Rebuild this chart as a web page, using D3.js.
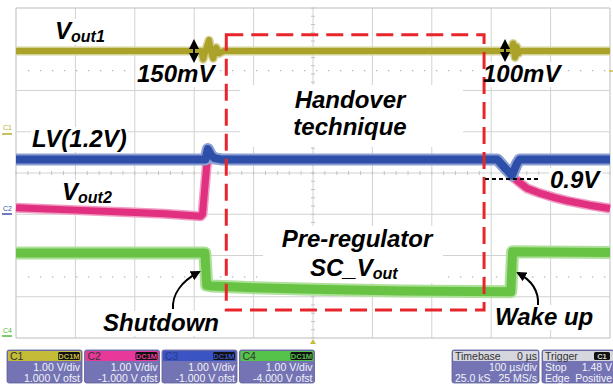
<!DOCTYPE html>
<html><head><meta charset="utf-8">
<script src="https://cdn.jsdelivr.net/npm/d3@7"></script>
<style>
html,body{margin:0;padding:0;background:#fff;}
svg{display:block;}
text{font-family:"Liberation Sans",Arial,sans-serif;}
</style></head><body>
<svg id="c" width="613" height="385"></svg>
<script>
// ---------- data (time in µs, level in screen divisions) ----------
const xTicks = [-500,-400,-300,-200,-100,0,100,200,300,400,500];
const yTicks = [-4,-3,-2,-1,0,1,2,3,4];

const vout1T = [-500,-188,-185,-180,-175,-171,-168,-163,-158,-150,333,337,340,343,346,350,500];
const vout1V = [2.96,2.96,2.76,3.0,3.22,2.9,2.78,3.04,2.9,2.96,2.96,3.14,2.8,3.06,2.9,2.96,2.96];

const lvT = [-500,-181,-177,-172,-166,-155,310,322,335,343,348,500];
const lvV = [0.33,0.33,0.58,0.44,0.36,0.33,0.33,0.14,-0.06,0.22,0.33,0.33];

const vout2T = [-500,-400,-300,-250,-189,-186,-177,-170,310,322,335,345,360,380,405,430,465,500];
const vout2V = [-0.84,-0.9,-0.96,-0.99,-1.05,-1.0,0.5,0.33,0.33,0.14,-0.08,-0.2,-0.37,-0.48,-0.59,-0.68,-0.78,-0.86];

const scT = [-500,-182,-179,-170,-100,0,150,333,336,500];
const scV = [-1.94,-1.94,-2.72,-2.74,-2.78,-2.82,-2.86,-2.88,-1.91,-1.93];

const handoverT = [-146, 288];
const handoverV = [-3.32, 3.35];

const chanNames = ["C1","C2","C3","C4"];
const chanColors = ["#c4bb36","#e8399a","#3b54c4","#55c24a"];
const chanScale = ["1.00 V/div","1.00 V/div","1.00 V/div","1.00 V/div"];
const chanOffset = ["1.000 V ofst","-1.000 V ofst","-1.000 V ofst","-4.000 V ofst"];
const chanCoupling = ["DC1M","DC1M","DC1M","DC1M"];
const timebaseRows = [["Timebase","0 µs"],["","100 µs/div"],["25.0 kS","25 MS/s"]];
const triggerRows = [["Trigger","C1"],["Stop","1.48 V"],["Edge","Positive"]];

// ---------- setup ----------
const svg = d3.select("#c");
const x = d3.scaleLinear().domain([-500,500]).range([16,610]);
const y = d3.scaleLinear().domain([-4,4]).range([338,8]);

// grid
const g = svg.append("g");
g.selectAll("line.v").data(xTicks).join("line")
  .attr("x1",d=>x(d)).attr("x2",d=>x(d)).attr("y1",y(4)).attr("y2",y(-4))
  .attr("stroke",d=>(d===-500||d===500)?"#bdbdbd":"#d2d2d2").attr("stroke-width",1);
g.selectAll("line.h").data(yTicks).join("line")
  .attr("y1",d=>y(d)).attr("y2",d=>y(d)).attr("x1",x(-500)).attr("x2",x(500))
  .attr("stroke",d=>(d===-4||d===4)?"#bdbdbd":"#d2d2d2").attr("stroke-width",1);
const minorX = d3.range(-500,500.1,20), minorY = d3.range(-4,4.01,0.2);
g.selectAll("line.mx").data(minorX).join("line")
  .attr("x1",d=>x(d)).attr("x2",d=>x(d)).attr("y1",y(0)-2).attr("y2",y(0)+2).attr("stroke","#c4c4c4");
g.selectAll("line.my").data(minorY).join("line")
  .attr("y1",d=>y(d)).attr("y2",d=>y(d)).attr("x1",x(0)-2).attr("x2",x(0)+2).attr("stroke","#c4c4c4");
[2.48,-2.52].forEach(v=>{
  g.append("line").attr("x1",x(-480)).attr("x2",x(500)).attr("y1",y(v)).attr("y2",y(v))
   .attr("stroke","#b8b8b8").attr("stroke-width",1.2).attr("stroke-dasharray","1.5 10.5");
});

// white label boxes (covering grid)
const boxes = svg.append("g");
boxes.append("rect").attr("x",240).attr("y",85).attr("width",223).attr("height",62).attr("fill","#fff");
boxes.append("rect").attr("x",263).attr("y",226).attr("width",180).attr("height",57).attr("fill","#fff");

// channel markers
const mk = svg.append("g").attr("font-size",7);
mk.append("text").attr("x",3).attr("y",130).attr("fill","#b8ae2c").text("C1");
mk.append("line").attr("x1",2).attr("x2",12).attr("y1",134).attr("y2",134).attr("stroke","#b8ae2c").attr("stroke-width",1.5);
mk.append("text").attr("x",3).attr("y",211).attr("fill","#3a4fa8").text("C2");
mk.append("line").attr("x1",2).attr("x2",12).attr("y1",214).attr("y2",214).attr("stroke","#3a4fa8").attr("stroke-width",1.5);
mk.append("text").attr("x",3).attr("y",333).attr("fill","#55b83c").text("C4");
mk.append("line").attr("x1",2).attr("x2",12).attr("y1",336).attr("y2",336).attr("stroke","#55b83c").attr("stroke-width",1.5);
svg.append("path").attr("d",`M${x(0)-3},${y(-4)+6} L${x(0)+3},${y(-4)+6} L${x(0)},${y(-4)+1} Z`).attr("fill","#c8bd3a");
svg.append("line").attr("x1",x(500)-1).attr("x2",x(500)+3).attr("y1",71).attr("y2",71).attr("stroke","#c8bd3a").attr("stroke-width",1.5);

// traces (opaque light fringe + solid core)
const line = d3.line().x(d=>x(d[0])).y(d=>y(d[1]));
function trace(T,V,color,fringeColor,core,fringe){
  const pts = T.map((t,i)=>[t,V[i]]);
  svg.append("path").attr("d",line(pts)).attr("fill","none").attr("stroke",fringeColor)
    .attr("stroke-width",fringe).attr("stroke-linejoin","round");
  svg.append("path").attr("d",line(pts)).attr("fill","none").attr("stroke",color)
    .attr("stroke-width",core).attr("stroke-linejoin","round");
}
trace(scT,scV,"#68c244","#aee09a",9,13);
trace(vout2T,vout2V,"#e0307f","#f09cc2",7,10);
trace(lvT,lvV,"#2d4fa9","#8c9fd2",8,12);
trace(vout1T,vout1V,"#aba22a","#d6d196",6,9);

// handover dashed rectangle
svg.append("rect")
  .attr("x",x(handoverT[0])).attr("y",y(handoverV[1]))
  .attr("width",x(handoverT[1])-x(handoverT[0])).attr("height",y(handoverV[0])-y(handoverV[1]))
  .attr("fill","none").attr("stroke","#e8252b").attr("stroke-width",3).attr("stroke-dasharray","17 8");

// 0.9V dashed line
svg.append("line").attr("x1",485).attr("x2",541).attr("y1",179).attr("y2",179)
  .attr("stroke","#000").attr("stroke-width",2).attr("stroke-dasharray","4 3");

// arrows
const defs = svg.append("defs");
defs.append("marker").attr("id","ah").attr("viewBox","0 0 10 10").attr("refX",8).attr("refY",5)
  .attr("markerWidth",5).attr("markerHeight",5).attr("orient","auto-start-reverse")
  .append("path").attr("d","M0,0 L10,5 L0,10 Z").attr("fill","#000");
[[194,41,61],[505,41,60]].forEach(a=>{
  svg.append("line").attr("x1",a[0]).attr("x2",a[0]).attr("y1",a[1]).attr("y2",a[2])
    .attr("stroke","#000").attr("stroke-width",2)
    .attr("marker-start","url(#ah)").attr("marker-end","url(#ah)");
});
svg.append("path").attr("d","M173,309 C172,294 182,281 199,272").attr("fill","none")
  .attr("stroke","#000").attr("stroke-width",2).attr("marker-end","url(#ah)");
svg.append("path").attr("d","M538,305 C539,290 531,280 518,273").attr("fill","none")
  .attr("stroke","#000").attr("stroke-width",2).attr("marker-end","url(#ah)");

// labels
const lab = svg.append("g").attr("font-weight","bold").attr("font-style","italic").attr("fill","#000");
function label(xp,yp,main,sub,anchor){
  const t = lab.append("text").attr("x",xp).attr("y",yp).attr("font-size",24)
    .attr("text-anchor",anchor||"start");
  t.append("tspan").text(main);
  if(sub){ t.append("tspan").attr("font-size",16).attr("dy",3).text(sub); }
  return t;
}
const tight = [];
tight.push(label(55,39,"V","out1"));
tight.push(label(137,82,"150mV"));
tight.push(label(483,82,"100mV"));
tight.push(label(32,147,"LV(1.2V)"));
tight.push(label(62,200,"V","out2"));
tight.push(label(550,188,"0.9V"));
tight.push(label(103,331,"Shutdown"));
tight.push(label(495,325,"Wake up"));
label(350,108,"Handover",null,"middle");
label(350,135,"technique",null,"middle");
label(357,247,"Pre-regulator",null,"middle");
label(310,276,"SC_V","out");
tight.forEach(t=>{
  const b = t.node().getBBox();
  boxes.append("rect").attr("x",b.x-1).attr("y",b.y+2).attr("width",b.width+2).attr("height",b.height-2).attr("fill","#fff");
});

// bottom panels
const body = "#7474b4";
const pn = svg.append("g").attr("font-size",10.5);
chanNames.forEach((n,i)=>{
  const px = 7 + i*77.5, w = 75;
  const p = pn.append("g");
  p.append("rect").attr("x",px).attr("y",350).attr("width",w).attr("height",33).attr("rx",2).attr("fill",body).attr("stroke","#5e5e9a").attr("stroke-width",0.8);
  p.append("rect").attr("x",px+1).attr("y",351).attr("width",w-2).attr("height",10).attr("rx",1).attr("fill",chanColors[i]);
  p.append("text").attr("x",px+3).attr("y",360).attr("fill",i===2?"#2a3a8a":"#333").text(n);
  p.append("rect").attr("x",px+w-24).attr("y",352).attr("width",22).attr("height",8).attr("rx",1.5).attr("fill","#111");
  p.append("text").attr("x",px+w-13).attr("y",359).attr("text-anchor","middle").attr("font-size",7.5).attr("font-weight","bold").attr("fill",chanColors[i]).text(chanCoupling[i]);
  p.append("text").attr("x",px+w-2).attr("y",371).attr("text-anchor","end").attr("fill","#f2f2f8").text(chanScale[i]);
  p.append("text").attr("x",px+w-2).attr("y",382).attr("text-anchor","end").attr("fill","#f2f2f8").text(chanOffset[i]);
});
function infoPanel(px,w,rows,badge){
  const p = pn.append("g");
  p.append("rect").attr("x",px).attr("y",350).attr("width",w).attr("height",33).attr("rx",2).attr("fill",body).attr("stroke","#5e5e9a").attr("stroke-width",0.8);
  p.append("rect").attr("x",px+1).attr("y",351).attr("width",w-2).attr("height",10).attr("rx",1).attr("fill","#d6d6de");
  rows.forEach((r,j)=>{
    const yy = 360 + j*11;
    const col = j===0?"#333":"#f2f2f8";
    if(r[0]) p.append("text").attr("x",px+3).attr("y",yy).attr("fill",col).text(r[0]);
    if(j===0 && badge){
      p.append("rect").attr("x",px+w-20).attr("y",352).attr("width",16).attr("height",8).attr("rx",1.5).attr("fill","#111");
      p.append("text").attr("x",px+w-12).attr("y",359).attr("text-anchor","middle").attr("font-size",7.5).attr("font-weight","bold").attr("fill","#d8d8d8").text(r[1]);
    } else {
      p.append("text").attr("x",px+w-2).attr("y",yy).attr("text-anchor","end").attr("fill",col).text(r[1]);
    }
  });
}
infoPanel(452,87,timebaseRows,false);
infoPanel(542,72,triggerRows,true);
</script>
</body></html>
